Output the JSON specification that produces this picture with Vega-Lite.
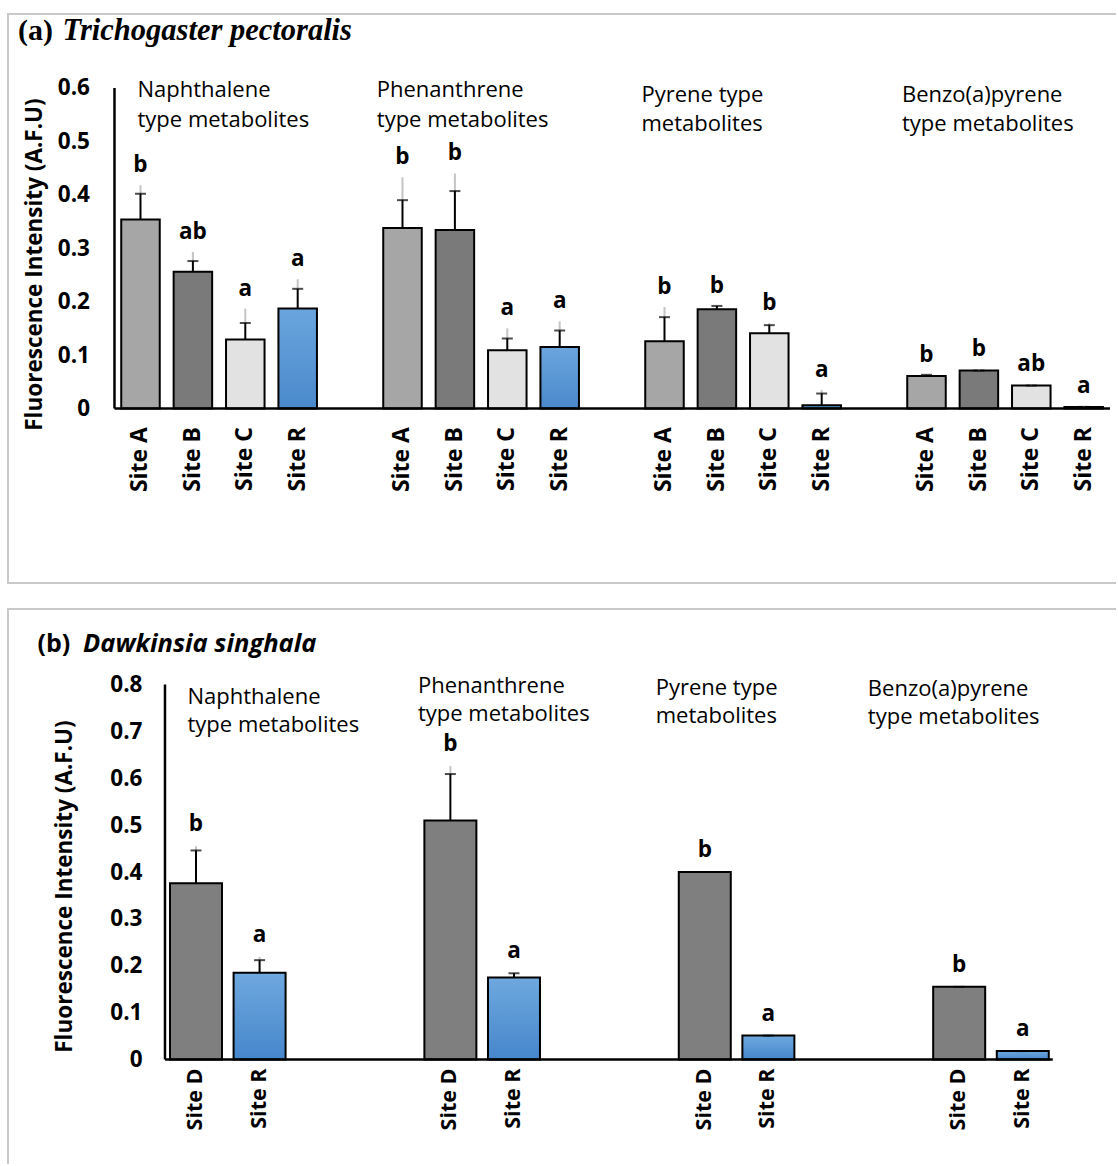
{
  "$schema": "https://vega.github.io/schema/vega-lite/v6.json",
  "background": "white",
  "padding": {"left": 7, "top": 13, "right": 0, "bottom": 0},
  "spacing": 24,
  "resolve": {"scale": {"x": "independent", "y": "independent"}},
  "config": {
    "axis": {"grid": false, "labelColor": "#000", "titleColor": "#000"},
    "text": {"font": "Open Sans", "color": "#000"}
  },
  "datasets": {
    "fishA": [
      {"group": "Naphthalene", "site": "Site A", "key": "Naphthalene|Site A", "mean": 0.354, "err_hi": 0.402, "sd_hi": 0.418, "letter": "b"},
      {"group": "Naphthalene", "site": "Site B", "key": "Naphthalene|Site B", "mean": 0.256, "err_hi": 0.276, "sd_hi": 0.293, "letter": "ab"},
      {"group": "Naphthalene", "site": "Site C", "key": "Naphthalene|Site C", "mean": 0.129, "err_hi": 0.160, "sd_hi": 0.187, "letter": "a"},
      {"group": "Naphthalene", "site": "Site R", "key": "Naphthalene|Site R", "mean": 0.187, "err_hi": 0.224, "sd_hi": 0.242, "letter": "a"},
      {"group": "Phenanthrene", "site": "Site A", "key": "Phenanthrene|Site A", "mean": 0.338, "err_hi": 0.390, "sd_hi": 0.433, "letter": "b"},
      {"group": "Phenanthrene", "site": "Site B", "key": "Phenanthrene|Site B", "mean": 0.334, "err_hi": 0.407, "sd_hi": 0.440, "letter": "b"},
      {"group": "Phenanthrene", "site": "Site C", "key": "Phenanthrene|Site C", "mean": 0.109, "err_hi": 0.131, "sd_hi": 0.150, "letter": "a"},
      {"group": "Phenanthrene", "site": "Site R", "key": "Phenanthrene|Site R", "mean": 0.115, "err_hi": 0.146, "sd_hi": 0.163, "letter": "a"},
      {"group": "Pyrene", "site": "Site A", "key": "Pyrene|Site A", "mean": 0.126, "err_hi": 0.171, "sd_hi": 0.190, "letter": "b"},
      {"group": "Pyrene", "site": "Site B", "key": "Pyrene|Site B", "mean": 0.186, "err_hi": 0.192, "sd_hi": 0.192, "letter": "b"},
      {"group": "Pyrene", "site": "Site C", "key": "Pyrene|Site C", "mean": 0.141, "err_hi": 0.156, "sd_hi": 0.160, "letter": "b"},
      {"group": "Pyrene", "site": "Site R", "key": "Pyrene|Site R", "mean": 0.006, "err_hi": 0.028, "sd_hi": 0.035, "letter": "a"},
      {"group": "Benzo(a)pyrene", "site": "Site A", "key": "Benzo(a)pyrene|Site A", "mean": 0.061, "err_hi": 0.063, "sd_hi": 0.063, "letter": "b"},
      {"group": "Benzo(a)pyrene", "site": "Site B", "key": "Benzo(a)pyrene|Site B", "mean": 0.071, "err_hi": 0.071, "sd_hi": 0.073, "letter": "b"},
      {"group": "Benzo(a)pyrene", "site": "Site C", "key": "Benzo(a)pyrene|Site C", "mean": 0.043, "err_hi": 0.043, "sd_hi": 0.045, "letter": "ab"},
      {"group": "Benzo(a)pyrene", "site": "Site R", "key": "Benzo(a)pyrene|Site R", "mean": 0.003, "err_hi": 0.003, "sd_hi": 0.005, "letter": "a"}
    ],
    "fishB": [
      {"group": "Naphthalene", "site": "Site D", "key": "Naphthalene|Site D", "mean": 0.376, "err_hi": 0.446, "sd_hi": 0.455, "letter": "b"},
      {"group": "Naphthalene", "site": "Site R", "key": "Naphthalene|Site R", "mean": 0.185, "err_hi": 0.212, "sd_hi": 0.219, "letter": "a"},
      {"group": "Phenanthrene", "site": "Site D", "key": "Phenanthrene|Site D", "mean": 0.510, "err_hi": 0.609, "sd_hi": 0.626, "letter": "b"},
      {"group": "Phenanthrene", "site": "Site R", "key": "Phenanthrene|Site R", "mean": 0.175, "err_hi": 0.184, "sd_hi": 0.184, "letter": "a"},
      {"group": "Pyrene", "site": "Site D", "key": "Pyrene|Site D", "mean": 0.400, "err_hi": 0.400, "sd_hi": 0.400, "letter": "b"},
      {"group": "Pyrene", "site": "Site R", "key": "Pyrene|Site R", "mean": 0.051, "err_hi": 0.051, "sd_hi": 0.051, "letter": "a"},
      {"group": "Benzo(a)pyrene", "site": "Site D", "key": "Benzo(a)pyrene|Site D", "mean": 0.155, "err_hi": 0.155, "sd_hi": 0.155, "letter": "b"},
      {"group": "Benzo(a)pyrene", "site": "Site R", "key": "Benzo(a)pyrene|Site R", "mean": 0.018, "err_hi": 0.018, "sd_hi": 0.018, "letter": "a"}
    ],
    "labels": [
      {"group": "Naphthalene", "label": "Naphthalene\ntype metabolites"},
      {"group": "Phenanthrene", "label": "Phenanthrene\ntype metabolites"},
      {"group": "Pyrene", "label": "Pyrene type\nmetabolites"},
      {"group": "Benzo(a)pyrene", "label": "Benzo(a)pyrene\ntype metabolites"}
    ],
    "titles": [
      {"panel": "a", "tag": "(a)", "species": "Trichogaster pectoralis"},
      {"panel": "b", "tag": "(b)", "species": "Dawkinsia singhala"}
    ]
  },
  "vconcat": [
    {
      "width": 1108,
      "height": 569,
      "view": {"stroke": "#c9c9c9", "strokeWidth": 2, "strokeDash": [1108, 569, 1700]},
      "data": {"name": "fishA"},
      "encoding": {
        "x": {
          "field": "key", "type": "nominal",
          "scale": {
            "domain": ["pad0", "Naphthalene|Site A", "Naphthalene|Site B", "Naphthalene|Site C", "Naphthalene|Site R", "gap1",
                       "Phenanthrene|Site A", "Phenanthrene|Site B", "Phenanthrene|Site C", "Phenanthrene|Site R", "gap2",
                       "Pyrene|Site A", "Pyrene|Site B", "Pyrene|Site C", "Pyrene|Site R", "gap3",
                       "Benzo(a)pyrene|Site A", "Benzo(a)pyrene|Site B", "Benzo(a)pyrene|Site C", "Benzo(a)pyrene|Site R"],
            "paddingInner": 0.265, "paddingOuter": 0.705, "align": 0.8234, "round": false
          },
          "axis": {
            "orient": "bottom", "offset": -174.5, "domain": false, "ticks": false, "tickSize": 0,
            "labelAngle": -90, "labelPadding": 18, "labelFont": "Open Sans", "labelFontWeight": "bold",
            "labelFontSize": 23, "labelColor": "#000", "labelOverlap": false, "labelBound": false,
            "labelExpr": "indexof(datum.value, '|') > 0 ? split(datum.value, '|')[1] : ''",
            "title": null
          }
        }
      },
      "layer": [
        {
          "transform": [{"filter": "datum.site != 'Site R'"}],
          "mark": {"type": "bar", "stroke": "#000", "strokeWidth": 2},
          "encoding": {
            "y": {
              "field": "mean", "type": "quantitative",
              "scale": {"domain": [-0.3267, 0.7385], "nice": false, "zero": false},
              "axis": {
                "values": [0, 0.1, 0.2, 0.3, 0.4, 0.5, 0.6],
                "labelExpr": "datum.value == 0 ? '0' : format(datum.value, '.1f')",
                "offset": -106.5, "domain": false, "ticks": false, "tickSize": 0, "grid": false,
                "labelPadding": 25, "labelFont": "Open Sans", "labelFontWeight": "bold", "labelFontSize": 22.5,
                "labelColor": "#000",
                "title": "Fluorescence Intensity (A.F.U)", "titleFont": "Open Sans", "titleFontWeight": "bold",
                "titleFontSize": 22.5, "titleColor": "#000", "titleX": -80.5, "titleY": 250, "titleAngle": -90,
                "titleAlign": "center", "titleBaseline": "middle"
              }
            },
            "y2": {"datum": 0},
            "color": {
              "field": "site", "type": "nominal",
              "scale": {"domain": ["Site A", "Site B", "Site C", "Site D"], "range": ["#a6a6a6", "#7a7a7a", "#e2e2e2", "#7f7f7f"]},
              "legend": null
            }
          }
        },
        {
          "transform": [{"filter": "datum.site == 'Site R'"}],
          "mark": {"type": "bar", "stroke": "#000", "strokeWidth": 2,
                   "fill": {"gradient": "linear", "x1": 0, "y1": 0, "x2": 0, "y2": 1,
                            "stops": [{"offset": 0, "color": "#6aa5dd"}, {"offset": 1, "color": "#4a89cc"}]}},
          "encoding": {
            "y": {"field": "mean", "type": "quantitative"},
            "y2": {"datum": 0}
          }
        },
        {
          "mark": {"type": "rule", "color": "#c4c4c4", "strokeWidth": 2},
          "encoding": {
            "y": {"field": "err_hi", "type": "quantitative"},
            "y2": {"field": "sd_hi"}
          }
        },
        {
          "mark": {"type": "rule", "color": "#000", "strokeWidth": 2},
          "encoding": {
            "y": {"field": "mean", "type": "quantitative"},
            "y2": {"field": "err_hi"}
          }
        },
        {
          "mark": {"type": "tick", "color": "#000", "size": 11, "thickness": 2},
          "encoding": {
            "y": {"field": "err_hi", "type": "quantitative"}
          }
        },
        {
          "mark": {"type": "text", "font": "Open Sans", "fontWeight": "bold", "fontSize": 22.5, "align": "center", "baseline": "middle", "dy": -20, "color": "#000"},
          "encoding": {
            "y": {"field": "sd_hi", "type": "quantitative"},
            "text": {"field": "letter"}
          }
        },
        {
          "data": {"values": [{}]},
          "mark": {"type": "rule", "color": "#000", "strokeWidth": 2.5, "xOffset": -6.75, "x2Offset": 7},
          "encoding": {
            "x": {"datum": "Naphthalene|Site A", "bandPosition": 0},
            "x2": {"datum": "Benzo(a)pyrene|Site R", "bandPosition": 1},
            "y": {"datum": 0}
          }
        },
        {
          "data": {"values": [{}]},
          "mark": {"type": "rule", "color": "#000", "strokeWidth": 2.5, "xOffset": -6.75},
          "encoding": {
            "x": {"datum": "Naphthalene|Site A", "bandPosition": 0},
            "y": {"datum": 0},
            "y2": {"datum": 0.6}
          }
        },
        {
          "data": {"name": "titles"},
          "transform": [{"filter": "datum.panel == 'a'"}],
          "mark": {"type": "text", "font": "Liberation Serif", "fontWeight": "bold", "fontSize": 30, "align": "left", "baseline": "alphabetic", "dx": -122.5, "dy": -48, "color": "#000"},
          "encoding": {
            "x": {"datum": "Naphthalene|Site A", "bandPosition": 0.5},
            "y": {"datum": 0.6},
            "text": {"field": "tag"}
          }
        },
        {
          "data": {"name": "titles"},
          "transform": [{"filter": "datum.panel == 'a'"}],
          "mark": {"type": "text", "font": "Liberation Serif", "fontWeight": "bold", "fontStyle": "italic", "fontSize": 30.5, "align": "left", "baseline": "alphabetic", "dx": -78, "dy": -48, "color": "#000"},
          "encoding": {
            "x": {"datum": "Naphthalene|Site A", "bandPosition": 0.5},
            "y": {"datum": 0.6},
            "text": {"field": "species"}
          }
        },
        {
          "data": {"name": "labels"},
          "transform": [{"filter": "datum.group == 'Naphthalene'"}],
          "mark": {"type": "text", "font": "Open Sans", "fontSize": 22, "align": "left", "baseline": "alphabetic", "lineBreak": "\n", "lineHeight": 30, "dx": -3, "dy": 9, "color": "#000"},
          "encoding": {
            "x": {"datum": "Naphthalene|Site A", "bandPosition": 0.5},
            "y": {"datum": 0.6},
            "text": {"field": "label"}
          }
        },
        {
          "data": {"name": "labels"},
          "transform": [{"filter": "datum.group == 'Phenanthrene'"}],
          "mark": {"type": "text", "font": "Open Sans", "fontSize": 22, "align": "left", "baseline": "alphabetic", "lineBreak": "\n", "lineHeight": 30, "dx": -25.7, "dy": 9, "color": "#000"},
          "encoding": {
            "x": {"datum": "Phenanthrene|Site A", "bandPosition": 0.5},
            "y": {"datum": 0.6},
            "text": {"field": "label"}
          }
        },
        {
          "data": {"name": "labels"},
          "transform": [{"filter": "datum.group == 'Pyrene'"}],
          "mark": {"type": "text", "font": "Open Sans", "fontSize": 22, "align": "left", "baseline": "alphabetic", "lineBreak": "\n", "lineHeight": 29, "dx": -23, "dy": 13.7, "color": "#000"},
          "encoding": {
            "x": {"datum": "Pyrene|Site A", "bandPosition": 0.5},
            "y": {"datum": 0.6},
            "text": {"field": "label"}
          }
        },
        {
          "data": {"name": "labels"},
          "transform": [{"filter": "datum.group == 'Benzo(a)pyrene'"}],
          "mark": {"type": "text", "font": "Open Sans", "fontSize": 22, "align": "left", "baseline": "alphabetic", "lineBreak": "\n", "lineHeight": 29, "dx": -24.5, "dy": 13.7, "color": "#000"},
          "encoding": {
            "x": {"datum": "Benzo(a)pyrene|Site A", "bandPosition": 0.5},
            "y": {"datum": 0.6},
            "text": {"field": "label"}
          }
        }
      ]
    },
    {
      "width": 1108,
      "height": 555,
      "view": {"stroke": "#c9c9c9", "strokeWidth": 2, "strokeDash": [1108, 1663, 600]},
      "data": {"name": "fishB"},
      "encoding": {
        "x": {
          "field": "key", "type": "nominal",
          "scale": {
            "domain": ["pad0", "pad1", "Naphthalene|Site D", "Naphthalene|Site R", "gap1a", "gap1b",
                       "Phenanthrene|Site D", "Phenanthrene|Site R", "gap2a", "gap2b",
                       "Pyrene|Site D", "Pyrene|Site R", "gap3a", "gap3b",
                       "Benzo(a)pyrene|Site D", "Benzo(a)pyrene|Site R"],
            "paddingInner": 0.1824, "paddingOuter": 0.802, "align": 0.341, "round": false
          },
          "axis": {
            "orient": "bottom", "offset": -104.5, "domain": false, "ticks": false, "tickSize": 0,
            "labelAngle": -90, "labelPadding": 8.5, "labelFont": "Open Sans", "labelFontWeight": "bold",
            "labelFontSize": 21.5, "labelColor": "#000", "labelOverlap": false, "labelBound": false,
            "labelExpr": "indexof(datum.value, '|') > 0 ? split(datum.value, '|')[1] : ''",
            "title": null
          }
        }
      },
      "layer": [
        {
          "transform": [{"filter": "datum.site != 'Site R'"}],
          "mark": {"type": "bar", "stroke": "#000", "strokeWidth": 2},
          "encoding": {
            "y": {
              "field": "mean", "type": "quantitative",
              "scale": {"domain": [-0.2229, 0.9611], "nice": false, "zero": false},
              "axis": {
                "values": [0, 0.1, 0.2, 0.3, 0.4, 0.5, 0.6, 0.7, 0.8],
                "labelExpr": "datum.value == 0 ? '0' : format(datum.value, '.1f')",
                "offset": -157, "domain": false, "ticks": false, "tickSize": 0, "grid": false,
                "labelPadding": 23, "labelFont": "Open Sans", "labelFontWeight": "bold", "labelFontSize": 22.5,
                "labelColor": "#000",
                "title": "Fluorescence Intensity (A.F.U)", "titleFont": "Open Sans", "titleFontWeight": "bold",
                "titleFontSize": 22.5, "titleColor": "#000", "titleX": -101, "titleY": 277, "titleAngle": -90,
                "titleAlign": "center", "titleBaseline": "middle"
              }
            },
            "y2": {"datum": 0},
            "color": {
              "field": "site", "type": "nominal",
              "scale": {"domain": ["Site A", "Site B", "Site C", "Site D"], "range": ["#a6a6a6", "#7a7a7a", "#e2e2e2", "#7f7f7f"]},
              "legend": null
            }
          }
        },
        {
          "transform": [{"filter": "datum.site == 'Site R'"}],
          "mark": {"type": "bar", "stroke": "#000", "strokeWidth": 2,
                   "fill": {"gradient": "linear", "x1": 0, "y1": 0, "x2": 0, "y2": 1,
                            "stops": [{"offset": 0, "color": "#6ea8de"}, {"offset": 1, "color": "#4686cb"}]}},
          "encoding": {
            "y": {"field": "mean", "type": "quantitative"},
            "y2": {"datum": 0}
          }
        },
        {
          "mark": {"type": "rule", "color": "#c4c4c4", "strokeWidth": 2},
          "encoding": {
            "y": {"field": "err_hi", "type": "quantitative"},
            "y2": {"field": "sd_hi"}
          }
        },
        {
          "mark": {"type": "rule", "color": "#000", "strokeWidth": 2},
          "encoding": {
            "y": {"field": "mean", "type": "quantitative"},
            "y2": {"field": "err_hi"}
          }
        },
        {
          "mark": {"type": "tick", "color": "#000", "size": 11, "thickness": 2},
          "encoding": {
            "y": {"field": "err_hi", "type": "quantitative"}
          }
        },
        {
          "mark": {"type": "text", "font": "Open Sans", "fontWeight": "bold", "fontSize": 22.5, "align": "center", "baseline": "middle", "dy": -22, "color": "#000"},
          "encoding": {
            "y": {"field": "sd_hi", "type": "quantitative"},
            "text": {"field": "letter"}
          }
        },
        {
          "data": {"values": [{}]},
          "mark": {"type": "rule", "color": "#000", "strokeWidth": 2.5, "xOffset": -5, "x2Offset": 4},
          "encoding": {
            "x": {"datum": "Naphthalene|Site D", "bandPosition": 0},
            "x2": {"datum": "Benzo(a)pyrene|Site R", "bandPosition": 1},
            "y": {"datum": 0}
          }
        },
        {
          "data": {"values": [{}]},
          "mark": {"type": "rule", "color": "#000", "strokeWidth": 2.5, "xOffset": -5},
          "encoding": {
            "x": {"datum": "Naphthalene|Site D", "bandPosition": 0},
            "y": {"datum": 0},
            "y2": {"datum": 0.8}
          }
        },
        {
          "data": {"name": "titles"},
          "transform": [{"filter": "datum.panel == 'b'"}],
          "mark": {"type": "text", "font": "Open Sans", "fontWeight": "bold", "fontSize": 25, "align": "left", "baseline": "alphabetic", "dx": -158.5, "dy": -32.7, "color": "#000"},
          "encoding": {
            "x": {"datum": "Naphthalene|Site D", "bandPosition": 0.5},
            "y": {"datum": 0.8},
            "text": {"field": "tag"}
          }
        },
        {
          "data": {"name": "titles"},
          "transform": [{"filter": "datum.panel == 'b'"}],
          "mark": {"type": "text", "font": "Open Sans", "fontWeight": "bold", "fontStyle": "italic", "fontSize": 25.5, "align": "left", "baseline": "alphabetic", "dx": -113, "dy": -32.7, "color": "#000"},
          "encoding": {
            "x": {"datum": "Naphthalene|Site D", "bandPosition": 0.5},
            "y": {"datum": 0.8},
            "text": {"field": "species"}
          }
        },
        {
          "data": {"name": "labels"},
          "transform": [{"filter": "datum.group == 'Naphthalene'"}],
          "mark": {"type": "text", "font": "Open Sans", "fontSize": 22, "align": "left", "baseline": "alphabetic", "lineBreak": "\n", "lineHeight": 28.5, "dx": -8.5, "dy": 19.1, "color": "#000"},
          "encoding": {
            "x": {"datum": "Naphthalene|Site D", "bandPosition": 0.5},
            "y": {"datum": 0.8},
            "text": {"field": "label"}
          }
        },
        {
          "data": {"name": "labels"},
          "transform": [{"filter": "datum.group == 'Phenanthrene'"}],
          "mark": {"type": "text", "font": "Open Sans", "fontSize": 22, "align": "left", "baseline": "alphabetic", "lineBreak": "\n", "lineHeight": 28.5, "dx": -32.4, "dy": 8.4, "color": "#000"},
          "encoding": {
            "x": {"datum": "Phenanthrene|Site D", "bandPosition": 0.5},
            "y": {"datum": 0.8},
            "text": {"field": "label"}
          }
        },
        {
          "data": {"name": "labels"},
          "transform": [{"filter": "datum.group == 'Pyrene'"}],
          "mark": {"type": "text", "font": "Open Sans", "fontSize": 22, "align": "left", "baseline": "alphabetic", "lineBreak": "\n", "lineHeight": 28.5, "dx": -49.1, "dy": 10.1, "color": "#000"},
          "encoding": {
            "x": {"datum": "Pyrene|Site D", "bandPosition": 0.5},
            "y": {"datum": 0.8},
            "text": {"field": "label"}
          }
        },
        {
          "data": {"name": "labels"},
          "transform": [{"filter": "datum.group == 'Benzo(a)pyrene'"}],
          "mark": {"type": "text", "font": "Open Sans", "fontSize": 22, "align": "left", "baseline": "alphabetic", "lineBreak": "\n", "lineHeight": 28.5, "dx": -91.3, "dy": 11.2, "color": "#000"},
          "encoding": {
            "x": {"datum": "Benzo(a)pyrene|Site D", "bandPosition": 0.5},
            "y": {"datum": 0.8},
            "text": {"field": "label"}
          }
        }
      ]
    }
  ]
}
